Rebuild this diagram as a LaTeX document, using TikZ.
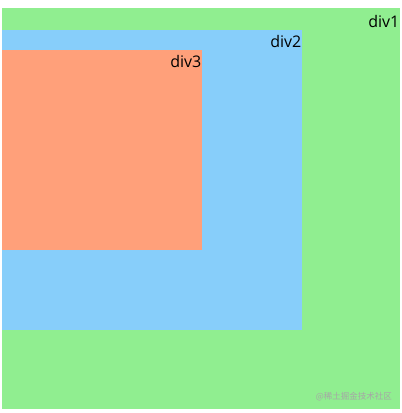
\documentclass[tikz,border=0pt]{standalone}
\usepackage{fontspec}
\setmainfont{Open Sans}
\newfontfamily\cjk{Noto Sans CJK SC}
\definecolor{lgreen}{HTML}{90EE90}
\definecolor{lblue}{HTML}{87CEFA}
\definecolor{lsalmon}{HTML}{FFA07A}
\begin{document}
\begin{tikzpicture}[x=1pt,y=-1pt,
  lbl/.style={anchor=base east,inner sep=0pt,font=\fontsize{16}{18}\selectfont,text=black}]
\useasboundingbox (0,0) rectangle (402,413);
\fill[white] (0,0) rectangle (402,413);
\fill[lgreen] (2,8) rectangle (400,409);
\fill[lblue] (2,30) rectangle (302,330);
\fill[lsalmon] (2,50) rectangle (202,250);
\node[lbl] (d1) at (399.5,27) {div1};
\node[lbl] (d2) at (301.5,47) {div2};
\node[lbl] (d3) at (201.5,67) {div3};
\node[anchor=east,inner sep=0pt,font=\cjk\fontsize{8.5}{10}\selectfont,text=black!35] (wm) at (392,397) {@稀土掘金技术社区};
\end{tikzpicture}
\end{document}
